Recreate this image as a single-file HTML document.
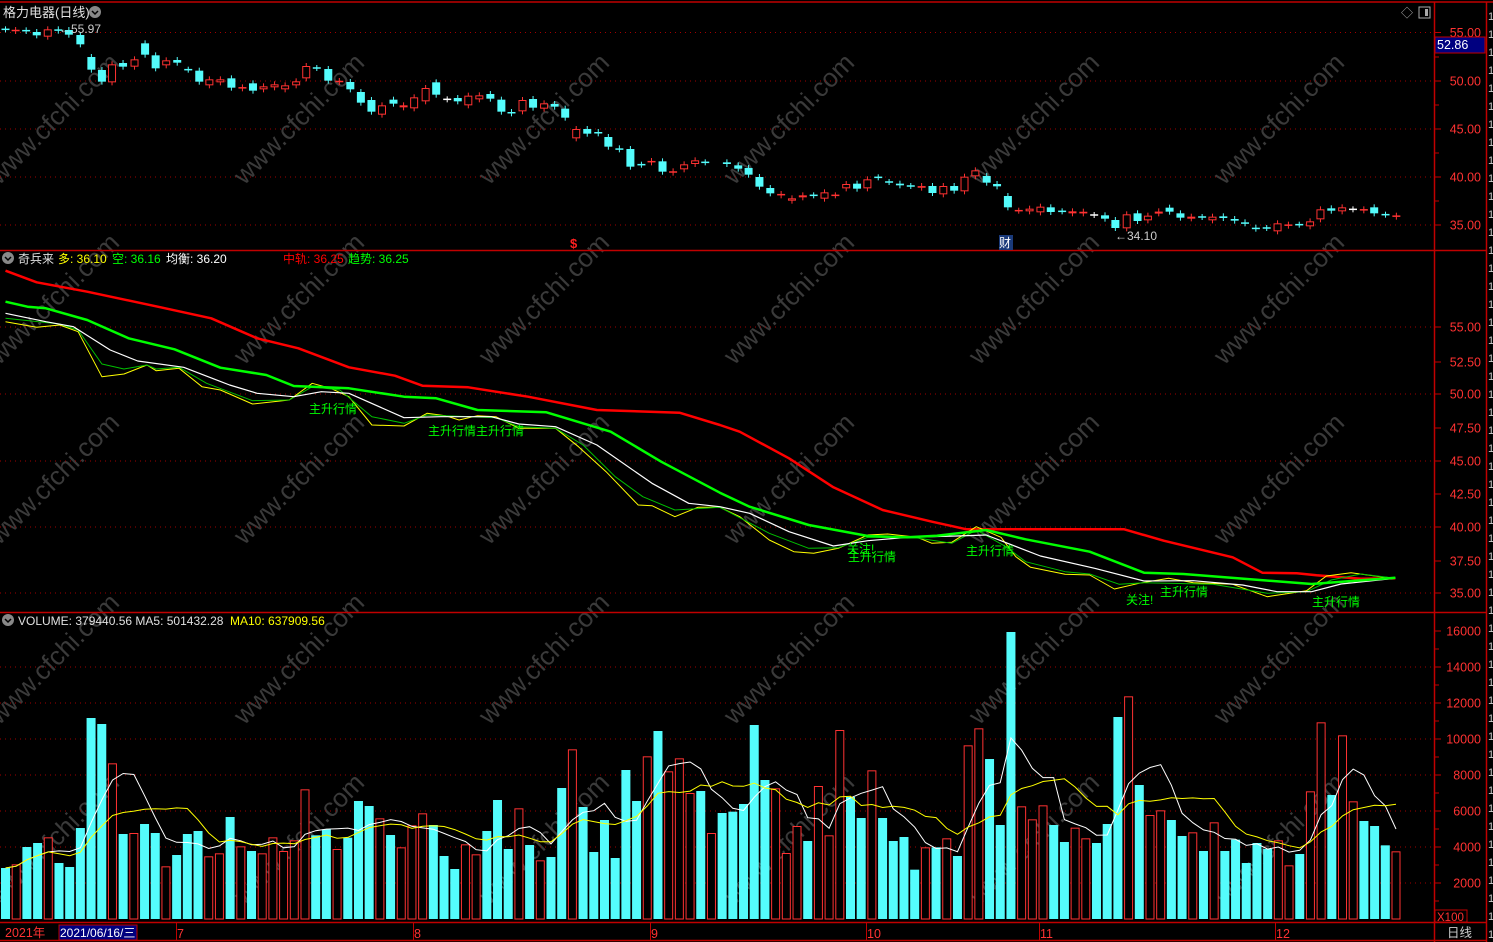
<!DOCTYPE html>
<html><head><meta charset="utf-8">
<style>
html,body{margin:0;padding:0;background:#000;}
svg{display:block;}
text{font-family:"Liberation Sans","Noto Sans CJK SC",sans-serif;}
</style></head>
<body>
<svg id="s" width="1493" height="942" xmlns="http://www.w3.org/2000/svg">
<rect width="1493" height="942" fill="#000"/>
<g id="wm" fill="#3a3a3a" font-size="26"></g>
<g id="grid"></g>
<g id="ind"></g>
<g id="vol"></g>
<g id="cand"></g>
<g stroke="#c00000" stroke-width="1.5" fill="none">
<line x1="0" y1="2" x2="1493" y2="2"/>
<line x1="0" y1="250.5" x2="1486" y2="250.5"/>
<line x1="0" y1="612.5" x2="1486" y2="612.5"/>
<line x1="0" y1="922.5" x2="1486" y2="922.5"/>
<line x1="0" y1="940.5" x2="1486" y2="940.5"/>
<line x1="1434.5" y1="2" x2="1434.5" y2="942"/>
<line x1="1486.5" y1="2" x2="1486.5" y2="942"/>
</g>
<g id="axis" fill="#ff3232" font-size="12.5"></g>
<text x="3" y="17" fill="#e0e0e0" font-size="13">格力电器(日线)</text>
<circle cx="95" cy="12" r="6" fill="#888"/>
<path d="M92 11 L95 14 L98 11" stroke="#000" stroke-width="1.5" fill="none"/>
<text x="1401" y="17" fill="#aaa" font-size="12">◇</text>
<rect x="1419" y="7" width="11" height="11" fill="none" stroke="#aaa"/><rect x="1425" y="9" width="3" height="7" fill="#aaa"/>
<rect x="1435" y="37" width="50" height="16" fill="#000080" stroke="#c00000"/>
<text x="1437" y="49" fill="#fff" font-size="12.5">52.86</text>
<text x="59" y="33" fill="#ccc" font-size="12">←55.97</text>
<text x="1115" y="240" fill="#ccc" font-size="12">←34.10</text>
<text x="570" y="248" fill="#ff2020" font-size="13" font-weight="bold">$</text>
<rect x="999" y="235" width="14" height="15" fill="#1a3a7a"/>
<text x="999" y="247" fill="#fff" font-size="12">财</text>
<circle cx="8" cy="258" r="6" fill="#888"/>
<path d="M5 257 L8 260 L11 257" stroke="#000" stroke-width="1.5" fill="none"/>
<text y="263" font-size="12"><tspan x="18" fill="#e0e0e0">奇兵来</tspan><tspan x="58" fill="#ffff00">多: 36.10</tspan><tspan x="112" fill="#00ff00">空: 36.16</tspan><tspan x="166" fill="#fff">均衡: 36.20</tspan><tspan x="283" fill="#ff0000">中轨: 36.25</tspan><tspan x="348" fill="#00ff00">趋势: 36.25</tspan></text>
<g fill="#00ff00" font-size="12">
<text x="309" y="413">主升行情</text>
<text x="428" y="435">主升行情主升行情</text>
<text x="847" y="553">关注!</text>
<text x="848" y="561">主升行情</text>
<text x="966" y="555">主升行情</text>
<text x="1126" y="604">关注!</text>
<text x="1160" y="596">主升行情</text>
<text x="1312" y="606">主升行情</text>
</g>
<circle cx="8" cy="620" r="6" fill="#888"/>
<path d="M5 619 L8 622 L11 619" stroke="#000" stroke-width="1.5" fill="none"/>
<text y="625" font-size="12"><tspan x="18" fill="#e0e0e0">VOLUME: 379440.56  MA5: 501432.28</tspan><tspan x="230" fill="#ffff00">MA10: 637909.56</tspan></text>
<text x="5" y="937" fill="#ff3232" font-size="12.5">2021年</text>
<rect x="59" y="925" width="78" height="15" fill="#000080" stroke="#c00000"/>
<text x="60" y="937" fill="#fff" font-size="12">2021/06/16/三</text>
<g fill="#ff3232" font-size="12.5">
<text x="177" y="938">7</text><text x="414" y="938">8</text><text x="651" y="938">9</text>
<text x="867" y="938">10</text><text x="1040" y="938">11</text><text x="1276" y="938">12</text>
</g>
<g stroke="#c00000"><line x1="176.5" y1="923" x2="176.5" y2="940"/><line x1="413.5" y1="923" x2="413.5" y2="940"/><line x1="650.5" y1="923" x2="650.5" y2="940"/><line x1="866.5" y1="923" x2="866.5" y2="940"/><line x1="1039.5" y1="923" x2="1039.5" y2="940"/><line x1="1275.5" y1="923" x2="1275.5" y2="940"/></g>
<rect x="1435" y="910" width="32" height="12" fill="none" stroke="#c00000"/>
<text x="1437" y="921" fill="#ff3232" font-size="11.5">X100</text>
<text x="1447" y="937" fill="#ccc" font-size="12.5">日线</text>
<g id="strip" fill="#ccc" font-size="11"></g>
</svg>
<script>
const NS="http://www.w3.org/2000/svg";
function el(p,t,a){const e=document.createElementNS(NS,t);for(const k in a)e.setAttribute(k,a[k]);document.getElementById(p).appendChild(e);return e;}
for(let i=0;i<6;i++)for(let j=0;j<5;j++){const cx=60+245*i,cy=125+180*j;const t=el('wm','text',{x:cx,y:cy,'text-anchor':'middle',transform:`rotate(-45 ${cx} ${cy})`});t.textContent='www.cfchi.com';}
function dotted(y){el('grid','line',{x1:0,y1:y,x2:1433,y2:y,stroke:'#a00000','stroke-dasharray':'1 4'});}
[32.5,81,129,177,225, 327,394,461,527,593, 667,703,739,775,811,847,883].forEach(dotted);
function lab(y,s){const t=el('axis','text',{x:1481,y:y+4.5,'text-anchor':'end'});t.textContent=s;el('axis','line',{x1:1435,y1:y,x2:1441,y2:y,stroke:'#c00000'});}
[[32.5,'55.00'],[81,'50.00'],[129,'45.00'],[177,'40.00'],[225,'35.00']].forEach(a=>lab(...a));
[[327,'55.00'],[362,'52.50'],[394,'50.00'],[428,'47.50'],[461,'45.00'],[494,'42.50'],[527,'40.00'],[561,'37.50'],[593,'35.00']].forEach(a=>lab(...a));
[[631,'16000'],[667,'14000'],[703,'12000'],[739,'10000'],[775,'8000'],[811,'6000'],[847,'4000'],[883,'2000']].forEach(a=>lab(...a));
[57,105,153,201,649,685,721,757,793,829,865,901].forEach(y=>el('axis','line',{x1:1435,y1:y,x2:1439,y2:y,stroke:'#c00000'}));
for(let y=20;y<940;y+=18){const t=el('strip','text',{x:1488,y:y});t.textContent='1';}
const s1=[[12,'x',88,88],[34,'R',90,93],[57,'x',91,93],[80,'c',96,106],[104,'r',88,110],[127,'c',88,92],[150,'c',90,104],[175,'c',105,133],[199,'c',171,209],[222,'c',210,245],[244,'r',193,247],[268,'c',189,200],[293,'r',178,200],[316,'c',130,164],[339,'c',166,205],[362,'r',181,196],[386,'c',180,188],[410,'x',209,209],[434,'c',212,245],[456,'r',238,256],[480,'r',238,247],[504,'c',235,263],[528,'R',262,265],[551,'c',250,272],[574,'r',259,268],[598,'r',253,262],[621,'r',256,268],[645,'r',244,256],[667,'r',198,235],[690,'x',204,204],[715,'c',207,242],[739,'R',243,246],[763,'c',246,268],[786,'c',276,308],[809,'c',300,335],[832,'r',316,344],[857,'c',299,311],[879,'r',316,322],[902,'r',292,325],[927,'r',264,304],[950,'c',247,284],[974,'w',298,298],[997,'c',294,304],[1020,'r',287,316],[1044,'r',286,298],[1068,'c',282,296],[1092,'c',299,335],[1114,'c',336,340],[1138,'r',300,334],[1161,'c',297,323],[1185,'r',310,326],[1208,'c',312,320],[1231,'c',326,353],[1255,'r',387,415],[1279,'c',387,401],[1303,'c',396,400],[1325,'c',411,440],[1349,'c',445,448],[1373,'c',447,500],[1397,'x',494,494],[1419,'R',483,487],[1443,'c',484,515],[1466,'R',514,518],[1490,'r',493,508],[1514,'r',481,492],[1536,'x',487,487]];
const s2=[[-1,'R',490,492],[14,'c',487,492],[37,'c',496,506],[58,'c',504,524],[80,'c',531,560],[102,'c',564,580],[124,'R',582,586],[146,'r',595,602],[168,'r',586,592],[190,'x',586,586],[212,'r',577,596],[234,'R',586,586],[256,'r',552,565],[278,'c',551,566],[299,'r',538,565],[321,'x',532,532],[343,'x',546,546],[365,'c',551,556],[387,'x',558,558],[409,'R',558,563],[431,'c',558,579],[453,'r',558,583],[475,'c',558,572],[496,'r',530,574],[518,'r',511,529],[541,'c',528,548],[562,'c',552,559],[584,'c',588,622],[606,'R',632,632],[628,'r',626,634],[650,'r',620,637],[671,'c',622,636],[694,'x',634,634],[715,'r',634,640],[737,'R',635,640],[759,'w',645,645],[781,'c',646,656],[802,'c',660,684],[825,'r',643,685],[847,'c',640,663],[868,'r',647,661],[890,'R',634,640],[912,'c',623,635],[934,'c',640,653],[956,'r',650,655],[978,'x',651,651],[999,'r',650,661],[1021,'c',649,654],[1044,'c',657,662],[1065,'c',667,670],[1087,'c',683,686],[1109,'x',684,684],[1131,'r',670,694],[1153,'R',674,677],[1175,'x',674,674],[1197,'r',664,679],[1218,'r',628,658],[1240,'c',625,632],[1262,'r',622,634],[1284,'w',628,628],[1306,'R',628,631],[1327,'c',622,640],[1350,'x',644,644],[1372,'R',647,650]];
function drawC(x,t,y1,y2){
  const col=t=='c'||t=='x'?'#54fcfc':t=='w'?'#ffffff':'#ff3232';
  el('cand','line',{x1:x,y1:y1-3,x2:x,y2:y2+3,stroke:col});
  if(t=='c')el('cand','rect',{x:x-4,y:y1,width:8,height:Math.max(1.5,y2-y1),fill:col});
  else if(t=='r')el('cand','rect',{x:x-3.5,y:y1+0.5,width:7,height:Math.max(1,y2-y1-1),fill:'#000',stroke:col});
  else el('cand','rect',{x:x-4,y:(y1+y2)/2-0.75,width:8,height:Math.max(1.5,y2-y1),fill:col});
}
s1.forEach(c=>drawC(c[0]/2.178,c[1],c[2]/3,c[3]/3));
s2.forEach(c=>{if(c[0]<0)return;drawC(720+c[0]/2.0285,c[1],c[2]/3,c[3]/3);});
const V="c768 r757 c705 c693 r676 c753 c765 c648 c318 c336 r454 c666 r663 c636 c663 r763 c729 c666 c657 r733 r724 c615 r703 c717 r724 r676 r717 r685 r532 c670 c652 r711 c677 c567 c582 r619 c669 r706 r640 r604 c639 c732 c771 r697 r727 c657 c564 c711 r589 c699 r745 c735 c528 r412 c585 c720 c624 c738 c474 c567 r433 c357 r478 r439 r543 c537 r663 c603 c599 c576 c339 c504 r529 r723 r642 c687 r522 r670 r354 c555 c618 r475 c618 c687 c675 c773 r706 c706 r679 c732 r400 r349 c441 c639 c60 r583 r622 r580 c639 c690 r647 r679 c693 c636 c315 r253 c519 r609 r595 c624 c672 r661 c717 r631 c717 c683 c753 c693 c711 r685 r760 c726 r538 r331 c549 r370 r568 c627 c642 c700 r718".split(' ');
const n=V.length, step=(1396-5.5)/(n-1), xs=[], vals=[];
V.forEach((s,i)=>{const x=5.5+i*step, top=612+(+s.slice(1))/3, h=919-top;xs.push(x);vals.push(h);
  if(s[0]=='c')el('vol','rect',{x:x-4.5,y:top,width:9,height:h,fill:'#54fcfc'});
  else el('vol','rect',{x:x-4,y:top+0.5,width:8,height:h-0.5,fill:'#000',stroke:'#ff3232'});
});
function ma(k,col){let pts=[];for(let i=0;i<n;i++){let a=Math.max(0,i-k+1),s=0;for(let j=a;j<=i;j++)s+=vals[j];pts.push(xs[i].toFixed(1)+','+(919-s/(i-a+1)).toFixed(1));}
  el('vol','polyline',{points:pts.join(' '),fill:'none',stroke:col,'stroke-width':1});}
ma(5,'#ffffff');ma(10,'#ffff00');
function line(a,b,col,w){const p=[];a.forEach(q=>p.push((q[0]/2.178).toFixed(1)+','+(250+q[1]/3).toFixed(1)));b.forEach(q=>p.push((720+q[0]/2.0285).toFixed(1)+','+(250+q[1]/3).toFixed(1)));
  el('ind','polyline',{points:p.join(' '),fill:'none',stroke:col,'stroke-width':w,'stroke-linejoin':'round'});}
line([[12,62],[80,97],[190,125],[350,172],[460,205],[560,265],[650,295],[760,352],[860,377],[920,407],[1020,412],[1150,440],[1300,480],[1480,488],[1568,525]],
 [[40,545],[140,625],[230,712],[330,780],[430,815],[500,838],[820,838],[900,872],[1040,922],[1100,968],[1170,970],[1210,976],[1300,986],[1370,985]],'#ff0000',2.5);
line([[12,215],[80,232],[130,225],[170,245],[222,380],[270,372],[320,345],[340,362],[390,355],[440,410],[480,420],[550,462],[630,450],[680,400],[720,415],[760,440],[810,525],[880,528],[930,490],[970,497],[1000,510],[1040,497],[1080,500],[1130,535],[1210,535],[1260,590],[1320,665],[1390,765],[1420,767],[1470,800],[1520,772],[1568,772]],
 [[40,800],[100,870],[150,905],[190,910],[240,895],[300,855],[340,852],[400,862],[430,880],[470,877],[520,830],[570,862],[600,920],[630,952],[700,973],[750,975],[800,1017],[850,1000],[910,985],[960,998],[1040,1003],[1110,1040],[1190,1022],[1230,978],[1280,968],[1340,980],[1370,985]],'#ffff00',1);
line([[12,205],[130,222],[170,240],[222,342],[270,357],[320,345],[340,357],[390,352],[450,400],[550,452],[630,450],[680,410],[740,420],[810,500],[880,520],[930,495],[1080,503],[1130,530],[1210,535],[1270,585],[1340,680],[1400,740],[1470,780],[1568,772]],
 [[100,850],[180,895],[240,893],[300,862],[400,864],[470,880],[520,840],[580,890],[620,935],[700,965],[750,972],[810,1003],[860,998],[1000,1003],[1110,1030],[1190,1025],[1240,990],[1300,972],[1370,985]],'#00c000',1);
line([[12,190],[100,215],[160,230],[240,300],[300,333],[400,352],[500,405],[560,430],[640,440],[700,425],[760,430],[880,503],[960,500],[1070,500],[1130,522],[1210,530],[1300,585],[1420,700],[1500,760],[1568,770]],
 [[60,790],[140,845],[230,888],[300,872],[380,862],[480,858],[540,855],[650,918],[760,955],[860,993],[960,992],[1060,1005],[1130,1025],[1200,1025],[1260,1002],[1370,985]],'#ffffff',1.2);
line([[12,155],[60,170],[100,175],[190,210],[280,265],[380,298],[480,353],[580,375],[640,408],[760,415],[880,440],[950,445],[1040,480],[1190,487],[1330,545],[1440,635],[1568,728]],
 [[60,770],[180,825],[300,858],[380,862],[440,857],[540,840],[620,868],[750,905],[860,968],[940,972],[1200,1002],[1370,983]],'#00ff00',2.5);
</script>
</body></html>
